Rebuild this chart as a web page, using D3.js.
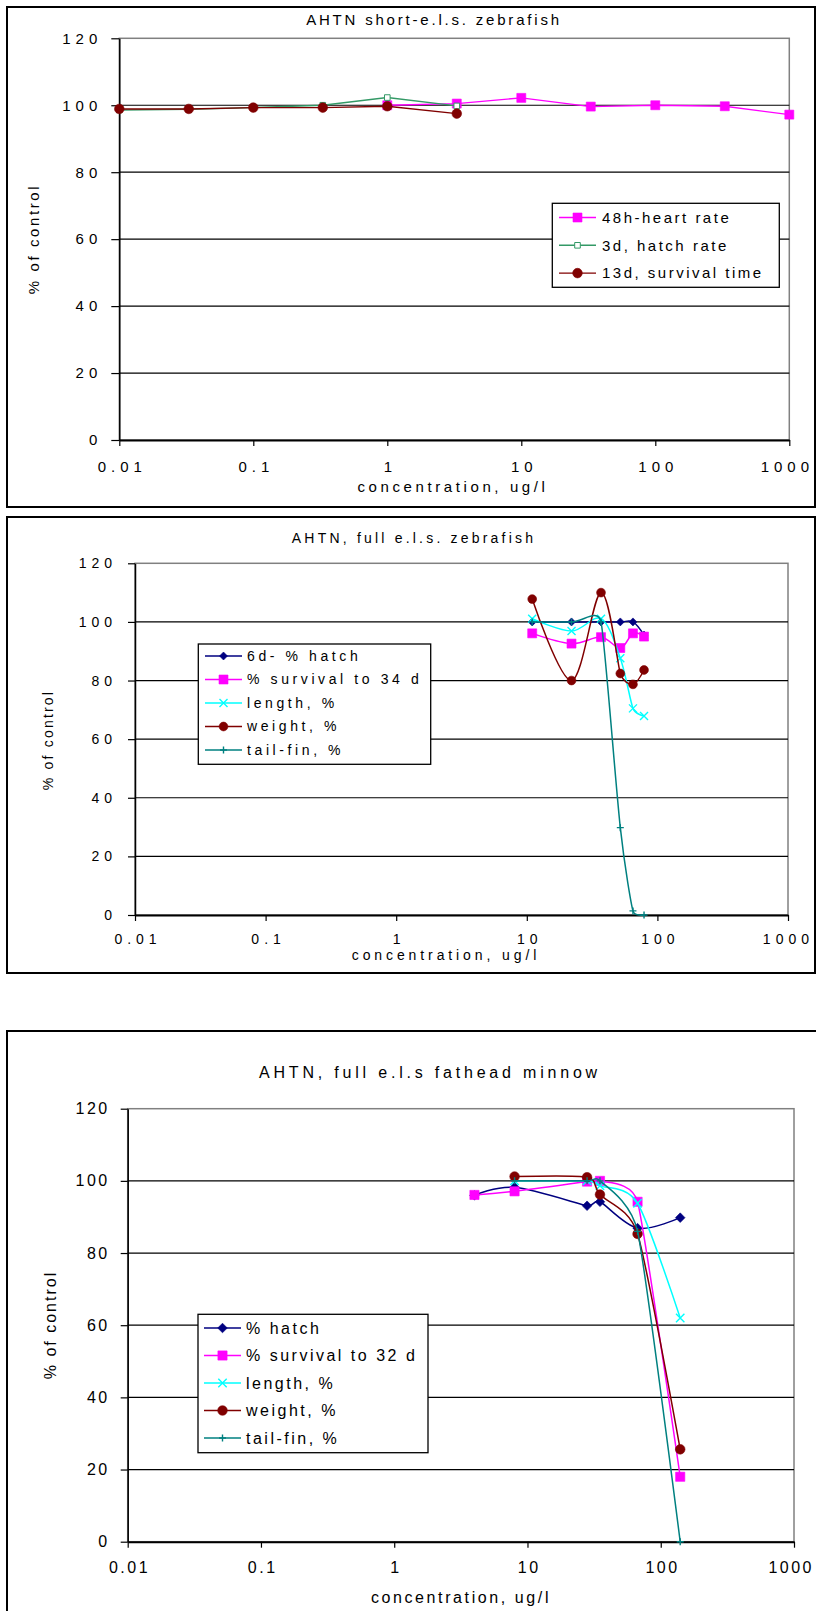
<!DOCTYPE html>
<html>
<head>
<meta charset="utf-8">
<script src="https://cdn.jsdelivr.net/npm/d3@7"></script>
<style>
  body { margin: 0; background: #fff; }
  svg { display: block; }
  text { font-family: Arial, "Liberation Sans", sans-serif; fill: #000; }
</style>
</head>
<body>
<svg id="page" width="816" height="1611"></svg>
<script>
// ---------- shared axis values ----------
const xTickValues = [0.01, 0.1, 1, 10, 100, 1000];
const xTickLabels = ["0.01", "0.1", "1", "10", "100", "1000"];
const yTickValues = [0, 20, 40, 60, 80, 100, 120];

// ---------- AHTN short-e.l.s. zebrafish ----------
const shortConc = [0.01, 0.033, 0.1, 0.33, 1, 3.3];
const heartConc = [1, 3.3, 10, 33, 100, 330, 1000];
const heartRate48h = [100, 100.5, 102.2, 99.6, 100, 99.7, 97.2];
const hatchRate3d = [98.6, 98.8, 99.3, 100, 102.3, 99.8];
const survivalTime13d = [98.9, 98.9, 99.3, 99.3, 99.7, 97.5];

// ---------- AHTN full e.l.s. zebrafish ----------
const zebraConc = [11, 22, 37, 52, 65, 79];
const zebraHatch6d = [100, 100, 100, 100, 100, 95.5];
const zebraSurvival34d = [96.1, 92.6, 94.8, 91.1, 96.1, 95.0];
const zebraLength = [101.1, 96.9, 101.1, 87.6, 70.5, 67.9];
const zebraWeight = [107.8, 80.0, 110.0, 82.4, 78.7, 83.6];
const zebraTailFin = [100, 100, 100, 29.8, 1.4, 0];

// ---------- AHTN full e.l.s fathead minnow ----------
const minnowConc = [4, 8, 28, 35, 67, 140];
const minnowHatch = [96, 98.2, 93.1, 94.2, 86.9, 89.8];
const minnowSurvival32d = [96.1, 97.1, 99.8, 100, 94.2, 18.0];
const minnowGrowthConc = [8, 28, 35, 67, 140];
const minnowLength = [100, 100, 98.6, 93.8, 62.0];
const minnowWeight = [101.2, 101.0, 96.2, 85.3, 25.6];
const minnowTailFin = [100, 100, 100, 86, 0];

// ---------- colours ----------
const MAGENTA = "#ff00ff", GREEN = "#339966", BROWN = "#800000",
      NAVY = "#000080", CYAN = "#00ffff", TEAL = "#008080";

// ---------- marker shapes (d3.symbol custom types, size = half-width) ----------
const markerTypes = {
  square: { draw(c, r) { c.rect(-r, -r, 2 * r, 2 * r); } },
  circle: { draw(c, r) { c.moveTo(r, 0); c.arc(0, 0, r, 0, 2 * Math.PI); } },
  diamond: { draw(c, r) { c.moveTo(0, -r); c.lineTo(r, 0); c.lineTo(0, r); c.lineTo(-r, 0); c.closePath(); } },
  times: { draw(c, r) { c.moveTo(-r, -r); c.lineTo(r, r); c.moveTo(r, -r); c.lineTo(-r, r); } },
  plus: { draw(c, r) { c.moveTo(-r, 0); c.lineTo(r, 0); c.moveTo(0, -r); c.lineTo(0, r); } }
};

function markerStyle(sel, s) {
  const stroked = s.marker === "times" || s.marker === "plus";
  sel.attr("d", d3.symbol().type(markerTypes[s.marker]).size(s.r))
     .attr("fill", stroked ? "none" : (s.hollow ? "#fff" : s.color))
     .attr("stroke", s.color)
     .attr("stroke-width", stroked ? 1.4 : (s.hollow ? 1 : 0.6));
}

// Spreadsheet-style smoothed line: cubic Bezier segments whose handles follow
// the neighbouring points, shortened so they never exceed half an adjacent segment.
function curveSmoothSheet(context) {
  let pts = [];
  const dist = (a, b) => Math.hypot(b[0] - a[0], b[1] - a[1]);
  return {
    areaStart() {}, areaEnd() {},
    lineStart() { pts = []; },
    point(x, y) { pts.push([+x, +y]); },
    lineEnd() {
      const n = pts.length;
      if (!n) return;
      context.moveTo(pts[0][0], pts[0][1]);
      if (n === 2) { context.lineTo(pts[1][0], pts[1][1]); return; }
      const h = pts.map((p, i) => {
        if (i === 0 || i === n - 1) return [0, 0];
        const a = pts[i - 1], b = pts[i + 1];
        const d01 = dist(a, p), d12 = dist(p, b), d02 = dist(a, b);
        if (d02 === 0) return [0, 0];
        let f = 1 / 6;
        if (d02 / 6 >= d01 / 2 || d02 / 6 >= d12 / 2) f = Math.min(d01, d12) / (2 * d02);
        return [(b[0] - a[0]) * f, (b[1] - a[1]) * f];
      });
      for (let i = 0; i < n - 1; i++) {
        const p = pts[i], q = pts[i + 1];
        context.bezierCurveTo(p[0] + h[i][0], p[1] + h[i][1],
                              q[0] - h[i + 1][0], q[1] - h[i + 1][1], q[0], q[1]);
      }
    }
  };
}

const svg = d3.select("#page");
const PAGE_RIGHT = 814;

function styledText(sel, size, ls) {
  sel.attr("font-size", size).attr("letter-spacing", ls);
}

function drawChart(cfg) {
  const g = svg.append("g");
  const P = cfg.plot;
  const x = d3.scaleLog().domain([0.01, 1000]).range([P.l, P.r]);
  const y = d3.scaleLinear().domain([0, 120]).range([P.b, P.t]);

  // outer chart frame
  g.append("rect")
    .attr("x", cfg.frame.x0).attr("y", cfg.frame.y0)
    .attr("width", cfg.frame.x1 - cfg.frame.x0).attr("height", cfg.frame.y1 - cfg.frame.y0)
    .attr("fill", "none").attr("stroke", "#000").attr("stroke-width", 2);

  // plot-area border
  g.append("rect")
    .attr("x", P.l).attr("y", P.t).attr("width", P.r - P.l).attr("height", P.b - P.t)
    .attr("fill", "none").attr("stroke", "#808080").attr("stroke-width", 1.5);

  // horizontal gridlines
  g.append("g").selectAll("line")
    .data(yTickValues.filter(v => v > 0 && v < 120))
    .join("line")
    .attr("x1", P.l).attr("x2", P.r)
    .attr("y1", d => y(d)).attr("y2", d => y(d))
    .attr("stroke", "#000").attr("stroke-width", 1.2);

  // y axis
  const ya = g.append("g").attr("transform", `translate(${P.l},0)`)
    .call(d3.axisLeft(y).tickValues(yTickValues).tickSizeInner(cfg.yTick).tickSizeOuter(0)
      .tickPadding(cfg.yPad).tickFormat(d3.format("d")));
  ya.select(".domain").attr("stroke", "#000").attr("stroke-width", 1.5);
  ya.selectAll(".tick line").attr("stroke", "#000").attr("stroke-width", 1.2);
  ya.selectAll(".tick text").attr("font-family", null).call(styledText, cfg.tickFont, cfg.tickLs);

  // x axis
  const xa = g.append("g").attr("transform", `translate(0,${P.b})`)
    .call(d3.axisBottom(x).tickValues(xTickValues).tickSizeInner(6).tickSizeOuter(0)
      .tickPadding(cfg.xPad).tickFormat((d, i) => xTickLabels[i]));
  xa.select(".domain").attr("stroke", "#000").attr("stroke-width", 2);
  xa.selectAll(".tick line").attr("stroke", "#000").attr("stroke-width", 1.2);
  xa.selectAll(".tick text").attr("font-family", null).attr("dx", cfg.tickLs / 2)
    .call(styledText, cfg.tickFont, cfg.tickLs)
    .each(function () {
      // keep the last label inside the page
      const over = this.getBoundingClientRect().right - PAGE_RIGHT;
      if (over > 0) d3.select(this).attr("dx", cfg.tickLs / 2 - over);
    });

  // titles
  g.append("text").attr("x", cfg.title.x).attr("y", cfg.title.y).attr("dy", "0.35em")
    .attr("text-anchor", "middle").text(cfg.title.text)
    .call(styledText, cfg.title.size, cfg.title.ls);
  g.append("text").attr("x", cfg.xTitle.x).attr("y", cfg.xTitle.y).attr("dy", "0.35em")
    .attr("text-anchor", "middle").text("concentration, ug/l")
    .call(styledText, cfg.xTitle.size, cfg.xTitle.ls);
  g.append("text").attr("transform", `translate(${cfg.yTitle.x},${cfg.yTitle.y}) rotate(-90)`)
    .attr("dy", "0.35em").attr("text-anchor", "middle").text("% of control")
    .call(styledText, cfg.yTitle.size, cfg.yTitle.ls);

  // series lines and markers
  cfg.series.forEach(s => {
    const pts = s.xs.map((c, i) => [x(c), y(s.ys[i])]);
    const line = d3.line().curve(s.smooth ? curveSmoothSheet : d3.curveLinear);
    g.append("path").attr("d", line(pts)).attr("fill", "none")
      .attr("stroke", s.color).attr("stroke-width", s.lw || 1.5);
    g.append("g").selectAll("path").data(pts).join("path")
      .attr("transform", d => `translate(${d[0]},${d[1]})`)
      .call(markerStyle, s);
  });

  // legend
  const L = cfg.legend;
  const lg = g.append("g");
  lg.append("rect").attr("x", L.x0).attr("y", L.y0).attr("width", L.x1 - L.x0).attr("height", L.y1 - L.y0)
    .attr("fill", "#fff").attr("stroke", "#000").attr("stroke-width", 1.3);
  cfg.series.forEach((s, i) => {
    const ry = L.rowY + i * L.rowStep;
    lg.append("line").attr("x1", L.lineX0).attr("x2", L.lineX1).attr("y1", ry).attr("y2", ry)
      .attr("stroke", s.color).attr("stroke-width", s.lw || 1.5);
    lg.append("path").attr("transform", `translate(${(L.lineX0 + L.lineX1) / 2},${ry})`).call(markerStyle, s);
    lg.append("text").attr("x", L.textX).attr("y", ry).attr("dy", "0.35em").text(s.name)
      .call(styledText, L.size, L.ls);
  });
}

// ---------- chart 1 ----------
drawChart({
  frame: { x0: 7, y0: 7, x1: 815, y1: 507 },
  plot: { l: 119.3, t: 38.3, r: 789.3, b: 440 },
  yTick: 8, yPad: 9, xPad: 15, tickFont: 15, tickLs: 5,
  title: { text: "AHTN short-e.l.s. zebrafish", x: 434, y: 20, size: 15, ls: 2.8 },
  xTitle: { x: 453, y: 487, size: 15, ls: 3.6 },
  yTitle: { x: 34, y: 239, size: 15, ls: 2.6 },
  legend: { x0: 552.3, y0: 203.3, x1: 779.3, y1: 287.3, rowY: 217.5, rowStep: 27.8,
            lineX0: 559, lineX1: 596, textX: 602, size: 15, ls: 2.5 },
  series: [
    { name: "48h-heart rate", xs: heartConc, ys: heartRate48h, color: MAGENTA, marker: "square", r: 4.5, lw: 1.4 },
    { name: "3d, hatch rate", xs: shortConc, ys: hatchRate3d, color: GREEN, marker: "square", r: 2.8, hollow: true, lw: 1.4 },
    { name: "13d, survival time", xs: shortConc, ys: survivalTime13d, color: BROWN, marker: "circle", r: 4.8, lw: 1.4 }
  ]
});

// ---------- chart 2 ----------
drawChart({
  frame: { x0: 7, y0: 517, x1: 815, y1: 973 },
  plot: { l: 135, t: 563.3, r: 788, b: 915 },
  yTick: 7, yPad: 11, xPad: 13, tickFont: 14, tickLs: 5,
  title: { text: "AHTN, full e.l.s. zebrafish", x: 414, y: 538, size: 14, ls: 3.2 },
  xTitle: { x: 446, y: 955, size: 14, ls: 3.9 },
  yTitle: { x: 48, y: 740, size: 14, ls: 2.2 },
  legend: { x0: 198.3, y0: 644, x1: 430.7, y1: 764.3, rowY: 656, rowStep: 23.5,
            lineX0: 205, lineX1: 242, textX: 247, size: 14, ls: 3.6 },
  series: [
    { name: "6d- % hatch", xs: zebraConc, ys: zebraHatch6d, color: NAVY, marker: "diamond", r: 4, smooth: true },
    { name: "% survival to 34 d", xs: zebraConc, ys: zebraSurvival34d, color: MAGENTA, marker: "square", r: 4.5, smooth: true },
    { name: "length, %", xs: zebraConc, ys: zebraLength, color: CYAN, marker: "times", r: 4, smooth: true },
    { name: "weight, %", xs: zebraConc, ys: zebraWeight, color: BROWN, marker: "circle", r: 4.4, smooth: true },
    { name: "tail-fin, %", xs: zebraConc, ys: zebraTailFin, color: TEAL, marker: "plus", r: 3.5, smooth: true }
  ]
});

// ---------- chart 3 ----------
drawChart({
  frame: { x0: 7, y0: 1031, x1: 822, y1: 1625 },
  plot: { l: 127.7, t: 1108.7, r: 794, b: 1541.7 },
  yTick: 7, yPad: 11, xPad: 14, tickFont: 16, tickLs: 2.5,
  title: { text: "AHTN, full e.l.s fathead minnow", x: 430, y: 1072, size: 16, ls: 3.8 },
  xTitle: { x: 461, y: 1597, size: 16, ls: 2.6 },
  yTitle: { x: 50, y: 1325, size: 16, ls: 2 },
  legend: { x0: 198, y0: 1314.3, x1: 428, y1: 1452.7, rowY: 1328, rowStep: 27.5,
            lineX0: 204, lineX1: 241, textX: 246, size: 16, ls: 2.5 },
  series: [
    { name: "% hatch", xs: minnowConc, ys: minnowHatch, color: NAVY, marker: "diamond", r: 4.8, smooth: true },
    { name: "% survival to 32 d", xs: minnowConc, ys: minnowSurvival32d, color: MAGENTA, marker: "square", r: 4.6, smooth: true },
    { name: "length, %", xs: minnowGrowthConc, ys: minnowLength, color: CYAN, marker: "times", r: 4.2, smooth: true },
    { name: "weight, %", xs: minnowGrowthConc, ys: minnowWeight, color: BROWN, marker: "circle", r: 4.8, smooth: true },
    { name: "tail-fin, %", xs: minnowGrowthConc, ys: minnowTailFin, color: TEAL, marker: "plus", r: 3.5, smooth: true }
  ]
});
</script>
</body>
</html>
